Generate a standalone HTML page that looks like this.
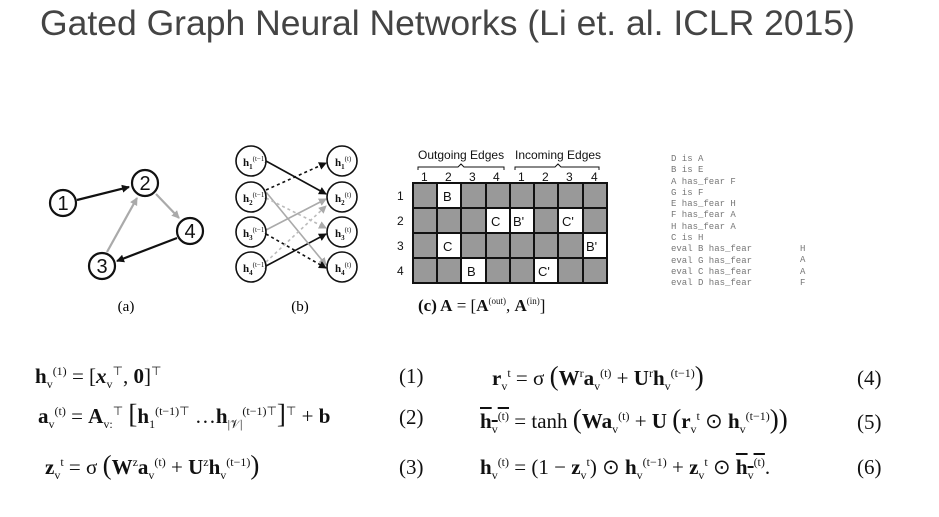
<!DOCTYPE html>
<html><head><meta charset="utf-8"><style>
body{margin:0;width:939px;height:517px;background:#fff;position:relative;overflow:hidden;font-family:"Liberation Serif",serif;}
.t{position:absolute;white-space:nowrap}
.eq{font-size:21px;color:#111;line-height:24px}
.eq b{font-weight:bold}
sup,sub{font-size:12px;line-height:0}
.mono{font-family:"Liberation Mono",monospace;font-size:9px;color:#777;line-height:11.3px}
</style></head><body>
<div class="t" style="left:40px;top:3px;font-family:'Liberation Sans',sans-serif;font-size:35.5px;color:#444">Gated Graph Neural Networks (Li et. al. ICLR 2015)</div>

<svg width="939" height="517" style="position:absolute;left:0;top:0">
<defs>
<marker id="ab" markerWidth="8" markerHeight="8" refX="7" refY="4" orient="auto" markerUnits="userSpaceOnUse"><path d="M0,0L8,4L0,8z" fill="#111"/></marker>
<marker id="ag" markerWidth="8" markerHeight="8" refX="7" refY="4" orient="auto" markerUnits="userSpaceOnUse"><path d="M0,0L8,4L0,8z" fill="#aaa"/></marker>
</defs>
<g stroke-width="2.2" fill="none">
<line x1="77" y1="200" x2="129" y2="187" stroke="#111" marker-end="url(#ab)"/>
<line x1="156" y1="194" x2="179" y2="218" stroke="#aaa" marker-end="url(#ag)"/>
<line x1="107" y1="252" x2="137" y2="198" stroke="#aaa" marker-end="url(#ag)"/>
<line x1="177" y1="238" x2="117" y2="261" stroke="#111" marker-end="url(#ab)"/>
</g>
<g stroke="#111" stroke-width="2.2" fill="#fff">
<circle cx="63" cy="203" r="13"/><circle cx="145" cy="183" r="13"/><circle cx="190" cy="231" r="13"/><circle cx="102" cy="266" r="13"/>
</g>
<g font-family="Liberation Sans" font-size="20" text-anchor="middle" fill="#111">
<text x="63" y="210">1</text><text x="145" y="190">2</text><text x="190" y="238">4</text><text x="102" y="273">3</text>
</g>
<text x="126" y="311" font-size="15" text-anchor="middle">(a)</text>

<g fill="none" stroke-width="1.6">
<line x1="266" y1="161" x2="326" y2="194" stroke="#111" marker-end="url(#ab)"/>
<line x1="266" y1="266" x2="326" y2="234" stroke="#111" marker-end="url(#ab)"/>
<line x1="266" y1="192" x2="326" y2="265" stroke="#aaa" marker-end="url(#ag)"/>
<line x1="266" y1="230" x2="326" y2="199" stroke="#aaa" marker-end="url(#ag)"/>
<line x1="266" y1="190" x2="326" y2="163" stroke="#111" stroke-dasharray="3,3" marker-end="url(#ab)"/>
<line x1="266" y1="234" x2="326" y2="268" stroke="#111" stroke-dasharray="3,3" marker-end="url(#ab)"/>
<line x1="266" y1="198" x2="326" y2="228" stroke="#bbb" stroke-dasharray="3,3" marker-end="url(#ag)"/>
<line x1="266" y1="262" x2="326" y2="206" stroke="#bbb" stroke-dasharray="3,3" marker-end="url(#ag)"/>
</g>
<g stroke="#111" stroke-width="1.6" fill="#fff">
<circle cx="251" cy="161" r="15"/><circle cx="251" cy="197" r="15"/><circle cx="251" cy="232" r="15"/><circle cx="251" cy="267" r="15"/>
<circle cx="342" cy="161" r="15"/><circle cx="342" cy="197" r="15"/><circle cx="342" cy="232" r="15"/><circle cx="342" cy="267" r="15"/>
</g>
<g font-size="11" font-weight="bold" fill="#111">
<text x="243" y="166">h<tspan font-size="7" dy="3">1</tspan><tspan font-size="7" font-weight="normal" dy="-8">(t−1)</tspan></text>
<text x="243" y="202">h<tspan font-size="7" dy="3">2</tspan><tspan font-size="7" font-weight="normal" dy="-8">(t−1)</tspan></text>
<text x="243" y="237">h<tspan font-size="7" dy="3">3</tspan><tspan font-size="7" font-weight="normal" dy="-8">(t−1)</tspan></text>
<text x="243" y="272">h<tspan font-size="7" dy="3">4</tspan><tspan font-size="7" font-weight="normal" dy="-8">(t−1)</tspan></text>
<text x="335" y="166">h<tspan font-size="7" dy="3">1</tspan><tspan font-size="7" font-weight="normal" dy="-8">(t)</tspan></text>
<text x="335" y="202">h<tspan font-size="7" dy="3">2</tspan><tspan font-size="7" font-weight="normal" dy="-8">(t)</tspan></text>
<text x="335" y="237">h<tspan font-size="7" dy="3">3</tspan><tspan font-size="7" font-weight="normal" dy="-8">(t)</tspan></text>
<text x="335" y="272">h<tspan font-size="7" dy="3">4</tspan><tspan font-size="7" font-weight="normal" dy="-8">(t)</tspan></text>
</g>
<text x="300" y="311" font-size="15" text-anchor="middle">(b)</text>

<rect x="413" y="183" width="194" height="100" fill="#999"/>
<g fill="#fff">
<rect x="437" y="183" width="24" height="25"/>
<rect x="486" y="208" width="24" height="25"/><rect x="510" y="208" width="24" height="25"/><rect x="558" y="208" width="24" height="25"/>
<rect x="437" y="233" width="24" height="25"/><rect x="583" y="233" width="24" height="25"/>
<rect x="461" y="258" width="24" height="25"/><rect x="534" y="258" width="24" height="25"/>
</g>
<g stroke="#111" stroke-width="2" fill="none">
<rect x="413" y="183" width="194" height="100"/>
<path d="M437,183V283M461,183V283M486,183V283M510,183V283M534,183V283M558,183V283M583,183V283M413,208H607M413,233H607M413,258H607"/>
</g>
<path d="M418,170v-3h40l3,-3l3,3h40v3M515,170v-3h40l3,-3l3,3h38v3" stroke="#111" fill="none" stroke-width="1"/>
<g font-family="Liberation Sans" font-size="12" fill="#111">
<text x="418" y="159">Outgoing Edges</text><text x="515" y="159">Incoming Edges</text>
<text x="421" y="181">1</text><text x="445" y="181">2</text><text x="469" y="181">3</text><text x="493" y="181">4</text>
<text x="518" y="181">1</text><text x="542" y="181">2</text><text x="566" y="181">3</text><text x="591" y="181">4</text>
<text x="397" y="200">1</text><text x="397" y="225">2</text><text x="397" y="250">3</text><text x="397" y="275">4</text>
<g font-size="13"><text x="443" y="201">B</text><text x="491" y="226">C</text><text x="513" y="226">B'</text><text x="562" y="226">C'</text>
<text x="443" y="251">C</text><text x="586" y="251">B'</text><text x="467" y="276">B</text><text x="538" y="276">C'</text></g>
</g>
<text x="418" y="311" font-size="17" fill="#111"><tspan font-weight="bold">(c) A</tspan> = [<tspan font-weight="bold">A</tspan><tspan font-size="9" dy="-7">(out)</tspan><tspan dy="7">, </tspan><tspan font-weight="bold">A</tspan><tspan font-size="9" dy="-7">(in)</tspan><tspan dy="7">]</tspan></text>
</svg>

<div class="t mono" style="left:671px;top:154px">D is A<br>B is E<br>A has_fear F<br>G is F<br>E has_fear H<br>F has_fear A<br>H has_fear A<br>C is H<br>eval B has_fear<br>eval G has_fear<br>eval C has_fear<br>eval D has_fear</div>
<div class="t mono" style="left:800px;top:244px">H<br>A<br>A<br>F</div>

<div class="t eq" style="left:35px;top:364px"><b>h</b><sub>v</sub><sup>(1)</sup> = [<b><i>x</i></b><sub>v</sub><sup>⊤</sup>, <b>0</b>]<sup>⊤</sup></div>
<div class="t eq" style="left:399px;top:364px">(1)</div>
<div class="t eq" style="left:38px;top:402px"><b>a</b><sub>v</sub><sup>(t)</sup> = <b>A</b><sub>v:</sub><sup>⊤</sup> <span style="font-size:27px">[</span><b>h</b><sub>1</sub><sup>(t−1)⊤</sup> …<b>h</b><sub>|𝒱|</sub><sup>(t−1)⊤</sup><span style="font-size:27px">]</span><sup>⊤</sup> + <b>b</b></div>
<div class="t eq" style="left:399px;top:405px">(2)</div>
<div class="t eq" style="left:45px;top:453px"><b>z</b><sub>v</sub><sup>t</sup> = σ <span style="font-size:27px">(</span><b>W</b><sup>z</sup><b>a</b><sub>v</sub><sup>(t)</sup> + <b>U</b><sup>z</sup><b>h</b><sub>v</sub><sup>(t−1)</sup><span style="font-size:27px">)</span></div>
<div class="t eq" style="left:399px;top:455px">(3)</div>

<div class="t eq" style="left:492px;top:364px"><b>r</b><sub>v</sub><sup>t</sup> = σ <span style="font-size:27px">(</span><b>W</b><sup>r</sup><b>a</b><sub>v</sub><sup>(t)</sup> + <b>U</b><sup>r</sup><b>h</b><sub>v</sub><sup>(t−1)</sup><span style="font-size:27px">)</span></div>
<div class="t eq" style="left:857px;top:366px">(4)</div>
<div class="t eq" style="left:480px;top:407px"><span style="text-decoration:overline"><b>h</b><sub>v</sub><sup>(t)</sup></span> = tanh <span style="font-size:27px">(</span><b>Wa</b><sub>v</sub><sup>(t)</sup> + <b>U</b> <span style="font-size:27px">(</span><b>r</b><sub>v</sub><sup>t</sup> ⊙ <b>h</b><sub>v</sub><sup>(t−1)</sup><span style="font-size:27px">))</span></div>
<div class="t eq" style="left:857px;top:410px">(5)</div>
<div class="t eq" style="left:480px;top:455px"><b>h</b><sub>v</sub><sup>(t)</sup> = (1 − <b>z</b><sub>v</sub><sup>t</sup>) ⊙ <b>h</b><sub>v</sub><sup>(t−1)</sup> + <b>z</b><sub>v</sub><sup>t</sup> ⊙ <span style="text-decoration:overline"><b>h</b><sub>v</sub><sup>(t)</sup></span>.</div>
<div class="t eq" style="left:857px;top:455px">(6)</div>
</body></html>
